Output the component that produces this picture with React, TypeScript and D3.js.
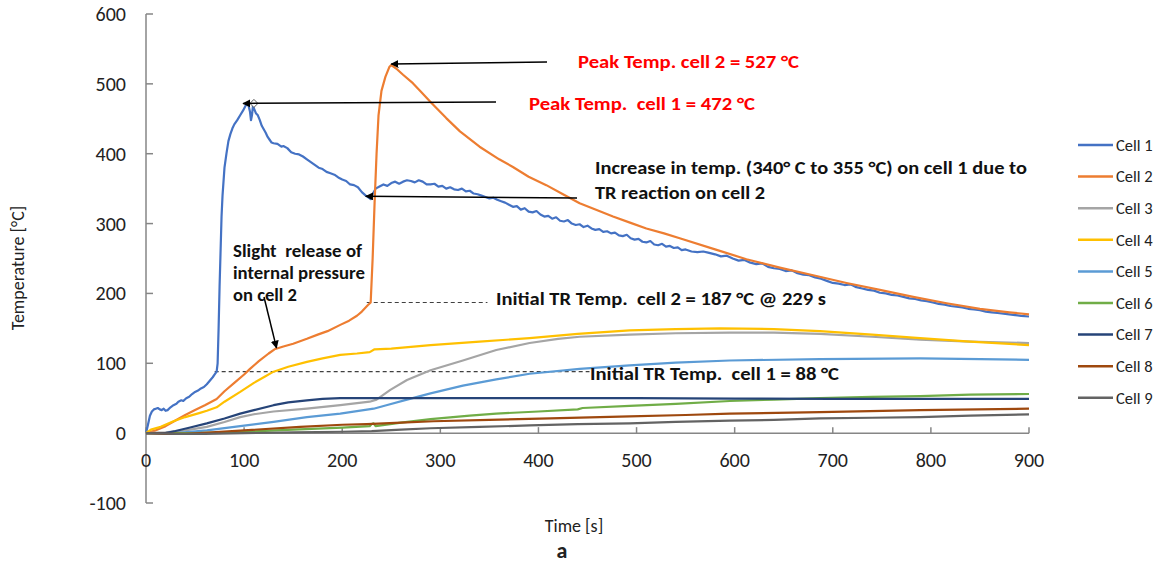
import React from "react";
import * as d3 from "d3";

type P = [number, number];

const cellNames = ["Cell 1", "Cell 2", "Cell 3", "Cell 4", "Cell 5", "Cell 6", "Cell 7", "Cell 8", "Cell 9"];
const cellColors = ["#4472C4", "#ED7D31", "#A5A5A5", "#FFC000", "#5B9BD5", "#70AD47", "#264478", "#9E480E", "#636363"];

const yTicks = [-100, 0, 100, 200, 300, 400, 500, 600];
const xTicks = [0, 100, 200, 300, 400, 500, 600, 700, 800, 900];

const cell1: P[] = [
  [0, 0], [2, 12], [4, 25], [6, 31], [8, 34], [10, 35], [12, 36], [14, 34], [16, 33], [18, 35], [20, 32], [22, 33],
  [25, 37], [28, 40], [31, 42], [33, 45], [36, 47], [38, 46], [41, 50], [44, 52], [47, 56], [50, 59], [53, 61],
  [56, 64], [59, 66], [62, 70], [65, 75], [68, 80], [70, 84], [72, 88], [73, 100], [74, 150], [75, 210], [76, 260],
  [77, 310], [78, 340], [80, 380], [82, 400], [84, 418], [86, 428], [88, 436], [90, 442], [93, 448], [96, 455],
  [99, 462], [102, 470], [104, 472], [106, 460], [107, 448], [108, 455], [109, 468], [110, 465], [112, 458],
  [114, 455], [116, 448], [118, 440], [120, 435], [122, 430], [124, 424], [126, 420], [128, 416], [130, 415],
  [134, 414], [138, 410], [140, 411], [144, 408], [148, 402], [152, 400], [156, 399], [160, 396], [164, 392],
  [168, 388], [172, 384], [176, 380], [180, 378], [184, 374], [188, 372], [192, 370], [196, 366], [200, 363],
  [204, 361], [208, 356], [212, 355], [216, 352], [220, 345], [224, 340], [227, 337], [229, 335], [231, 342],
  [234, 350], [238, 353], [242, 356], [246, 354], [250, 358], [254, 360], [258, 357], [262, 360], [266, 362],
  [270, 361], [274, 359], [278, 362], [282, 360], [286, 356], [290, 356], [294, 357], [298, 353], [302, 354],
  [306, 350], [310, 352], [314, 349], [318, 348], [322, 350], [326, 346], [330, 347], [334, 343], [338, 342],
  [342, 340], [346, 338], [350, 336], [354, 337], [358, 334], [362, 332], [366, 330], [370, 327], [374, 324],
  [378, 325], [382, 320], [386, 322], [390, 317], [394, 316], [398, 318], [402, 313], [406, 310], [410, 311],
  [414, 307], [418, 309], [422, 304], [426, 303], [430, 305], [434, 300], [438, 298], [442, 299], [446, 295],
  [450, 297], [454, 293], [458, 291], [462, 292], [466, 288], [470, 289], [474, 286], [478, 287], [482, 283],
  [486, 282], [490, 284], [494, 279], [498, 277], [502, 278], [506, 274], [510, 273], [514, 275], [518, 270],
  [522, 269], [526, 271], [530, 267], [534, 268], [538, 265], [542, 266], [546, 262], [550, 263], [556, 260],
  [562, 259], [568, 260], [574, 258], [580, 256], [586, 253], [592, 254], [598, 250], [604, 247], [610, 248],
  [616, 244], [622, 242], [628, 243], [634, 238], [640, 236], [646, 235], [652, 232], [658, 233], [664, 229],
  [670, 227], [676, 226], [682, 223], [688, 221], [694, 218], [700, 215], [706, 214], [712, 212], [718, 213],
  [724, 209], [730, 207], [736, 205], [742, 204], [748, 201], [754, 200], [760, 198], [766, 197], [772, 195],
  [778, 193], [784, 192], [790, 190], [796, 189], [802, 187], [808, 185], [814, 184], [820, 182], [826, 181],
  [832, 180], [838, 178], [844, 177], [850, 176], [856, 174], [862, 173], [868, 172], [874, 171], [880, 170],
  [886, 169], [892, 168], [900, 167],
];

const cell2: P[] = [
  [0, 0], [10, 4], [20, 10], [30, 18], [40, 26], [50, 33], [60, 40], [72, 49], [80, 60], [90, 72], [100, 84],
  [106, 92], [115, 103], [125, 114], [131, 120], [140, 124], [150, 128], [164, 135], [175, 141], [185, 146],
  [198, 155], [207, 161], [215, 168], [220, 174], [226, 183], [229, 187], [231, 250], [233, 330], [235, 400],
  [237, 455], [240, 490], [244, 510], [248, 524], [250, 527], [255, 522], [262, 513], [272, 501], [280, 489],
  [290, 474], [306, 451], [320, 432], [340, 410], [360, 392], [374, 381], [390, 367], [408, 355], [425, 342],
  [442, 329], [460, 319], [476, 310], [494, 301], [510, 293], [528, 286], [544, 279], [580, 263], [612, 249],
  [646, 237], [680, 226], [714, 215], [748, 205], [782, 195], [816, 186], [850, 178], [880, 173], [900, 170],
];

const cell3: P[] = [
  [0, 0], [20, 1], [40, 4], [62, 9], [80, 16], [96, 23], [110, 27], [130, 31], [164, 35], [198, 40], [228, 45],
  [235, 48], [249, 62], [266, 76], [290, 90], [323, 104], [357, 119], [391, 129], [420, 135], [442, 138],
  [493, 141], [540, 143], [595, 144], [640, 144], [687, 142], [740, 138], [789, 134], [840, 131], [900, 129],
];

const cell4: P[] = [
  [0, 0], [5, 5], [15, 9], [28, 17], [40, 23], [55, 29], [62, 32], [72, 37], [80, 45], [96, 59], [110, 72],
  [120, 80], [130, 88], [145, 95], [164, 102], [180, 107], [198, 112], [215, 114], [228, 116], [233, 120],
  [250, 121], [290, 126], [340, 131], [391, 136], [440, 142], [493, 147], [540, 149], [585, 150], [640, 149],
  [687, 146], [740, 141], [789, 136], [840, 131], [900, 126],
];

const cell5: P[] = [
  [0, 0], [30, 0], [62, 4], [96, 10], [130, 16], [164, 23], [198, 28], [232, 35], [245, 40], [266, 48],
  [290, 57], [323, 68], [357, 77], [391, 85], [442, 92], [493, 97], [540, 101], [595, 104], [687, 106],
  [789, 107], [850, 106], [900, 105],
];

const cell6: P[] = [
  [0, 0], [50, 0], [100, 2], [150, 5], [200, 8], [228, 10], [230, 13], [232, 14], [234, 10], [260, 15],
  [290, 20], [330, 25], [357, 28], [400, 31], [440, 34], [445, 36], [493, 39], [540, 42], [595, 46], [640, 48],
  [687, 50], [740, 52], [789, 53], [840, 55], [900, 56],
];

const cell7: P[] = [
  [0, 0], [20, 0], [30, 3], [45, 8], [62, 14], [80, 21], [96, 28], [110, 33], [130, 40], [145, 44], [164, 47],
  [180, 49], [198, 50], [230, 50], [266, 50], [300, 50], [400, 50], [500, 50], [600, 49.5], [700, 49],
  [800, 49], [900, 49],
];

const cell8: P[] = [
  [0, 0], [20, -1], [40, -1], [55, 0], [100, 4], [157, 9], [200, 12], [225, 13], [260, 15], [293, 17],
  [350, 19], [412, 21], [493, 24], [550, 26], [595, 28], [687, 30], [789, 33], [900, 35],
];

const cell9: P[] = [
  [0, 0], [30, -1], [60, -1], [100, 0], [150, 1], [200, 2], [230, 3], [260, 5], [290, 7], [340, 9], [391, 11],
  [440, 13], [493, 14], [540, 16], [595, 18], [640, 19], [687, 21], [740, 22], [789, 23], [840, 25], [900, 27],
];

const series: P[][] = [cell1, cell2, cell3, cell4, cell5, cell6, cell7, cell8, cell9];

const W = 1159;
const H = 565;
const FONT = "Carlito, Calibri, Lato, 'Open Sans', sans-serif";

export default function App() {
  const x = d3.scaleLinear().domain([0, 900]).range([146, 1029]);
  const y = d3.scaleLinear().domain([-100, 600]).range([503, 14]);
  const line = d3
    .line<P>()
    .x((d) => x(d[0]))
    .y((d) => y(d[1]));

  const axisColor = "#868686";
  const pre: React.CSSProperties = { whiteSpace: "pre" };

  return (
    <svg
      width={W}
      height={H}
      viewBox={`0 0 ${W} ${H}`}
      style={{ position: "absolute", left: 0, top: 0, background: "#fff", fontFamily: FONT }}
    >
      <defs>
        <marker id="ah" viewBox="0 0 10 10" refX="9" refY="5" markerWidth="8" markerHeight="8" orient="auto-start-reverse" markerUnits="userSpaceOnUse">
          <path d="M0,0 L10,5 L0,10 z" fill="#000" />
        </marker>
      </defs>
      <rect x={0} y={0} width={W} height={H} fill="#fff" />

      {/* y axis */}
      <line x1={x(0)} x2={x(0)} y1={y(600)} y2={y(-100)} stroke={axisColor} strokeWidth={1.5} />
      {yTicks.map((t) => (
        <g key={"yt" + t}>
          <line x1={x(0)} x2={x(0) + 7} y1={y(t)} y2={y(t)} stroke={axisColor} strokeWidth={1.5} />
          <text x={126} y={y(t)} dy="0.35em" textAnchor="end" fontSize={20} fill="#222">
            {t}
          </text>
        </g>
      ))}

      {/* x axis at 0 */}
      <line x1={x(0)} x2={x(900)} y1={y(0)} y2={y(0)} stroke={axisColor} strokeWidth={1.5} />
      {xTicks.map((t) => (
        <g key={"xt" + t}>
          <line x1={x(t)} x2={x(t)} y1={y(0)} y2={y(0) - 6} stroke={axisColor} strokeWidth={1.5} />
          <text x={x(t)} y={467} textAnchor="middle" fontSize={20} fill="#222">
            {t}
          </text>
        </g>
      ))}

      {/* axis titles */}
      <text transform={`translate(24,268) rotate(-90)`} textAnchor="middle" fontSize={18} fill="#222">
        Temperature [°C]
      </text>
      <text x={574} y={532} textAnchor="middle" fontSize={18} fill="#222">
        Time [s]
      </text>
      <text x={562} y={558} textAnchor="middle" fontSize={22} fontWeight="bold" fill="#222">
        a
      </text>

      {/* dashed reference lines */}
      <line x1={x(70)} x2={x(452)} y1={y(88)} y2={y(88)} stroke="#404040" strokeWidth={1.2} strokeDasharray="4,3" />
      <line x1={x(225)} x2={x(348)} y1={y(187)} y2={y(187)} stroke="#404040" strokeWidth={1.2} strokeDasharray="4,3" />

      {/* series */}
      {series.map((s, i) => (
        <path key={cellNames[i]} d={line(s) || ""} fill="none" stroke={cellColors[i]} strokeWidth={2.2} strokeLinejoin="round" />
      ))}

      {/* peak marker on cell 1 */}
      <path
        d={`M${x(110)},${y(472) - 4} l4,4 l-4,4 l-4,-4 z`}
        fill="#fff"
        stroke="#333"
        strokeWidth={0.8}
      />

      {/* arrows */}
      <line x1={547} y1={62} x2={x(250)} y2={y(527) - 1} stroke="#000" strokeWidth={1.5} markerEnd="url(#ah)" />
      <line x1={496} y1={102} x2={x(99)} y2={y(472)} stroke="#000" strokeWidth={1.5} markerEnd="url(#ah)" />
      <line x1={577} y1={198} x2={x(224)} y2={y(339)} stroke="#000" strokeWidth={1.5} markerEnd="url(#ah)" />
      <line x1={264} y1={297} x2={x(133)} y2={y(122)} stroke="#000" strokeWidth={1.5} markerEnd="url(#ah)" />

      {/* annotation texts */}
      <text x={578} y={68} fontSize={18} fontWeight="bold" fill="#FF0000" textLength={221} lengthAdjust="spacingAndGlyphs" style={pre}>
        Peak Temp. cell 2 = 527 °C
      </text>
      <text x={529} y={110} fontSize={18} fontWeight="bold" fill="#FF0000" textLength={226} lengthAdjust="spacingAndGlyphs" style={pre}>
        Peak Temp.  cell 1 = 472 °C
      </text>
      <text x={595} y={174} fontSize={18} fontWeight="bold" fill="#111" textLength={432} lengthAdjust="spacingAndGlyphs" style={pre}>
        Increase in temp. (340° C to 355 °C) on cell 1 due to
      </text>
      <text x={595} y={199} fontSize={18} fontWeight="bold" fill="#111" textLength={170} lengthAdjust="spacingAndGlyphs" style={pre}>
        TR reaction on cell 2
      </text>
      <text x={233} y={257} fontSize={17} fontWeight="bold" fill="#111" textLength={129} lengthAdjust="spacingAndGlyphs" style={pre}>
        Slight  release of
      </text>
      <text x={233} y={279} fontSize={17} fontWeight="bold" fill="#111" textLength={132} lengthAdjust="spacingAndGlyphs" style={pre}>
        internal pressure
      </text>
      <text x={233} y={301} fontSize={17} fontWeight="bold" fill="#111" textLength={64} lengthAdjust="spacingAndGlyphs" style={pre}>
        on cell 2
      </text>
      <text x={496} y={305} fontSize={18} fontWeight="bold" fill="#111" textLength={330} lengthAdjust="spacingAndGlyphs" style={pre}>
        Initial TR Temp.  cell 2 = 187 °C @ 229 s
      </text>
      <text x={590} y={380} fontSize={18} fontWeight="bold" fill="#111" textLength={249} lengthAdjust="spacingAndGlyphs" style={pre}>
        Initial TR Temp.  cell 1 = 88 °C
      </text>

      {/* legend */}
      {cellNames.map((n, i) => {
        const ly = 145 + i * 31.6;
        return (
          <g key={"lg" + n}>
            <line x1={1078} x2={1113} y1={ly} y2={ly} stroke={cellColors[i]} strokeWidth={2.5} />
            <text x={1116} y={ly} dy="0.35em" fontSize={16.5} fill="#222">
              {n}
            </text>
          </g>
        );
      })}
    </svg>
  );
}
